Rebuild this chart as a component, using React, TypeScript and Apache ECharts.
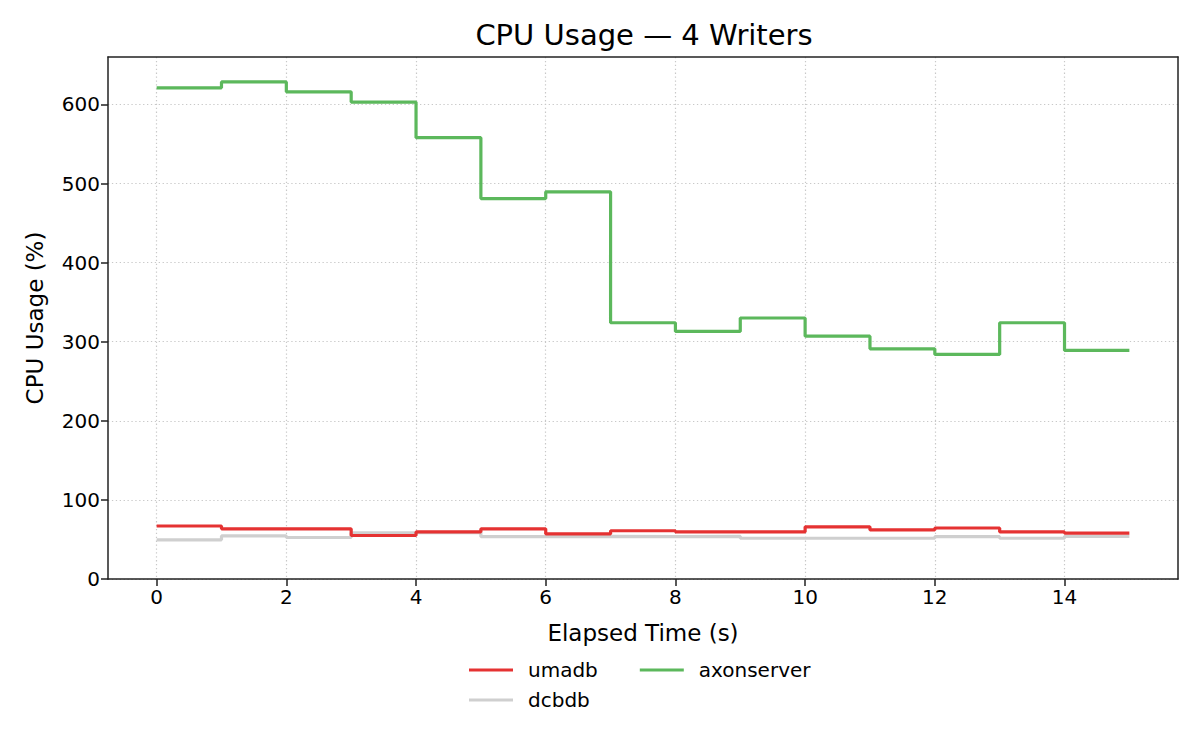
import React, { useEffect, useRef } from "react";
import * as echarts from "echarts";

const times = [0, 1, 2, 3, 4, 5, 6, 7, 8, 9, 10, 11, 12, 13, 14, 15];
const umadb = [67, 63.5, 63.5, 55, 59.5, 63.5, 57, 61, 59.5, 59.5, 66, 62, 64.5, 59.5, 58, 58];
const dcbdb = [49.5, 54.5, 52.5, 58.5, 59, 53.5, 54, 53.5, 54, 51.5, 51.5, 51.5, 53.5, 51.5, 54, 54];
const axonserver = [621, 628.5, 616, 603, 558, 481, 489.5, 324, 313, 330, 307, 291, 284, 324, 289, 289];
const xTicks = [0, 2, 4, 6, 8, 10, 12, 14];
const yTicks = [0, 100, 200, 300, 400, 500, 600];

const FONT = "DejaVu Sans";
const AXIS_COLOR = "#222";
const GRID_STYLE = { type: [1.3, 2.6], color: "#c8c8c8", width: 1.2 };

function pairs(vals: number[]) {
  return times.map((t, i) => [t, vals[i]]);
}

export default function App() {
  const ref = useRef<HTMLDivElement>(null);
  useEffect(() => {
    const chart = echarts.init(ref.current!, null, { renderer: "svg" });
    const frameAxis = {
      show: true,
      axisLine: { show: true, onZero: false, lineStyle: { color: AXIS_COLOR, width: 1.5 } },
      axisTick: { show: false },
      axisLabel: { show: false },
      splitLine: { show: false },
    };
    const legendBase = {
      orient: "horizontal",
      icon: "rect",
      itemWidth: 44,
      itemHeight: 3,
      itemGap: 42,
      padding: 0,
      selectedMode: false,
      textStyle: { fontFamily: FONT, fontSize: 20, color: "#000", padding: [0, 0, 0, 10] },
    };
    const option: any = {
      animation: false,
      backgroundColor: "#fff",
      textStyle: { fontFamily: FONT },
      title: {
        text: "CPU Usage \u2014 4 Writers",
        left: 639,
        textAlign: "center",
        top: 15,
        textStyle: { fontFamily: FONT, fontSize: 29, fontWeight: "normal", color: "#000" },
      },
      grid: { left: 108, right: 22, top: 57, bottom: 171, containLabel: false, outerBoundsMode: "none" },
      legend: [
        { ...legendBase, data: ["umadb", "axonserver"], left: 469, top: 660 },
        { ...legendBase, data: ["dcbdb"], left: 469, top: 690 },
      ],
      xAxis: [
        {
          type: "value",
          min: -0.75,
          max: 15.75,
          splitNumber: 8,
          minInterval: 2,
          maxInterval: 2,
          name: "Elapsed Time (s)",
          nameLocation: "middle",
          nameGap: 42,
          nameTextStyle: { fontFamily: FONT, fontSize: 23, color: "#000" },
          axisLine: { show: true, onZero: false, lineStyle: { color: AXIS_COLOR, width: 1.5 } },
          axisTick: { show: true, length: 7, customValues: xTicks, lineStyle: { color: AXIS_COLOR, width: 1.5 } },
          axisLabel: { customValues: xTicks, fontFamily: FONT, fontSize: 20, color: "#000", margin: 8 },
          splitLine: { show: true, lineStyle: GRID_STYLE },
        },
        { type: "value", position: "top", min: -0.75, max: 15.75, ...frameAxis },
      ],
      yAxis: [
        {
          type: "value",
          min: 0,
          max: 660,
          interval: 100,
          name: "CPU Usage (%)",
          nameLocation: "middle",
          nameRotate: 90,
          nameGap: 62,
          nameTextStyle: { fontFamily: FONT, fontSize: 23, color: "#000" },
          axisLine: { show: true, onZero: false, lineStyle: { color: AXIS_COLOR, width: 1.5 } },
          axisTick: { show: true, length: 7, customValues: yTicks, lineStyle: { color: AXIS_COLOR, width: 1.5 } },
          axisLabel: { customValues: yTicks, fontFamily: FONT, fontSize: 20, color: "#000", margin: 8 },
          splitLine: { show: true, lineStyle: GRID_STYLE },
        },
        { type: "value", position: "right", min: 0, max: 660, ...frameAxis },
      ],
      series: [
        {
          name: "umadb",
          type: "line",
          step: "end",
          data: pairs(umadb),
          symbol: "none",
          z: 4,
          color: "#e53232",
          lineStyle: { width: 3.2, color: "#e53232" },
        },
        {
          name: "dcbdb",
          type: "line",
          step: "end",
          data: pairs(dcbdb),
          symbol: "none",
          z: 3,
          color: "#cfcfcf",
          lineStyle: { width: 3.2, color: "#cfcfcf" },
        },
        {
          name: "axonserver",
          type: "line",
          step: "end",
          data: pairs(axonserver),
          symbol: "none",
          z: 3,
          color: "#5cb85c",
          lineStyle: { width: 3.2, color: "#5cb85c" },
        },
      ],
    };
    chart.setOption(option);
    return () => chart.dispose();
  }, []);
  return (
    <div
      ref={ref}
      style={{ position: "fixed", left: 0, top: 0, width: 1200, height: 750, background: "#fff" }}
    />
  );
}
